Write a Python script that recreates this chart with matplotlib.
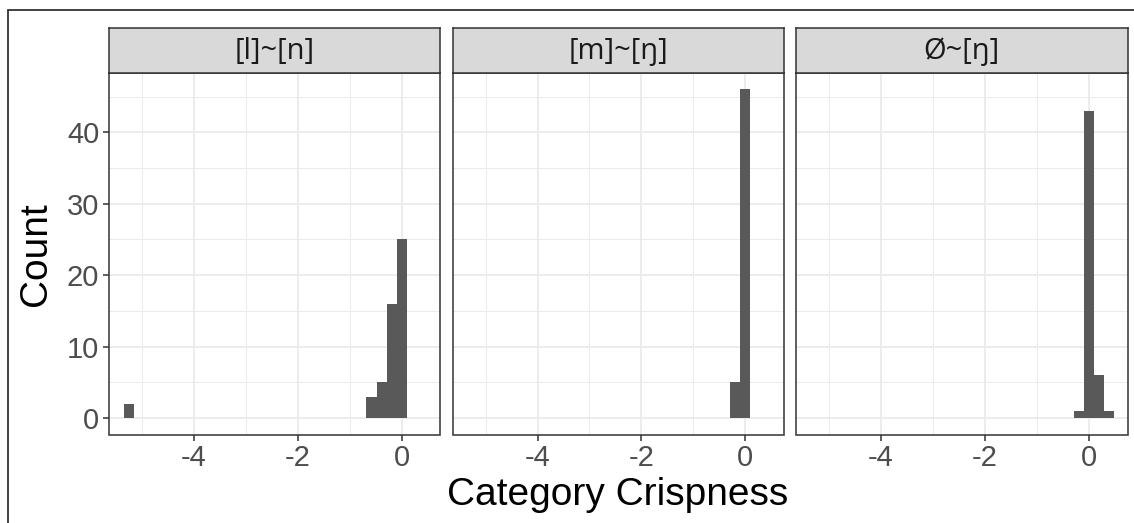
"""
Histogram of category crispness per contrast, three facets (ggplot theme_bw look).
"""
import matplotlib
matplotlib.use("Agg")
import matplotlib.pyplot as plt
from matplotlib.patches import Rectangle

# ---- data ----
panels = ["[l]~[n]", "[m]~[ŋ]", "Ø~[ŋ]"]
bin_width = 0.193
centers_ln = [-5.255, -0.58, -0.387, -0.193, 0.0]
counts_ln = [2, 3, 5, 16, 25]
centers_mng = [-0.193, 0.0]
counts_mng = [5, 46]
centers_0ng = [-0.193, 0.0, 0.193, 0.387]
counts_0ng = [1, 43, 6, 1]
x_ticks = [-4, -2, 0]
x_minor = [-5, -3, -1]
y_ticks = [0, 10, 20, 30, 40]
y_minor = [5, 15, 25, 35, 45]

series = [(centers_ln, counts_ln), (centers_mng, counts_mng), (centers_0ng, counts_0ng)]

plt.rcParams["axes.unicode_minus"] = False

W, H = 1134, 523
fig = plt.figure(figsize=(W / 100, H / 100), dpi=100)

tick_font = ["Liberation Sans", "DejaVu Sans"]
strip_font = ["Open Sans", "DejaVu Sans"]

# panel positions in pixels (left, right)
lefts = [109, 452.5, 796]
pw = 331.5
top, bottom = 73, 434.5
strip_top = 28

for i, (name, (cx, cnt)) in enumerate(zip(panels, series)):
    ax = fig.add_axes([lefts[i] / W, 1 - bottom / H, pw / W, (bottom - top) / H])
    ax.bar(cx, cnt, width=bin_width, color="#595959", linewidth=0, zorder=3)
    ax.set_xlim(-5.64, 0.75)
    ax.set_ylim(-2.3, 48.3)
    ax.set_xticks(x_ticks)
    ax.set_xticks(x_minor, minor=True)
    ax.set_yticks(y_ticks)
    ax.set_yticks(y_minor, minor=True)
    ax.grid(True, which="major", color="#EBEBEB", linewidth=1.3, zorder=0)
    ax.grid(True, which="minor", color="#EBEBEB", linewidth=0.7, zorder=0)
    ax.set_axisbelow(True)
    ax.tick_params(which="minor", length=0)
    ax.tick_params(which="major", length=4, width=1.1, color="#333333",
                   labelcolor="#4D4D4D", labelsize=21, pad=3)
    for lab in ax.get_xticklabels() + ax.get_yticklabels():
        lab.set_family(tick_font)
    if i > 0:
        ax.tick_params(axis="y", left=False, labelleft=False)
    for sp in ax.spines.values():
        sp.set_color("#333333")
        sp.set_linewidth(1.1)

    # facet strip
    sax = fig.add_axes([lefts[i] / W, 1 - top / H, pw / W, (top - strip_top) / H])
    sax.set_facecolor("#D9D9D9")
    sax.set_xticks([])
    sax.set_yticks([])
    for sp in sax.spines.values():
        sp.set_color("#333333")
        sp.set_linewidth(1.1)
    sax.text(0.5, 0.47, name, ha="center", va="center", fontsize=21,
             color="#1A1A1A", family=strip_font, transform=sax.transAxes)

fig.text(36 / W, 1 - 254 / H, "Count", rotation=90, ha="center", va="center",
         fontsize=28, family=tick_font)
fig.text(618 / W, 1 - 505 / H, "Category Crispness", ha="center", va="baseline",
         fontsize=28, family=tick_font)

# outer frame (only its left/top edges fall inside the image)
fig.patches.append(Rectangle((8 / W, -0.05), 1.1, 1 - 10 / H + 0.05,
                             transform=fig.transFigure, fill=False,
                             edgecolor="#333333", linewidth=1.3))

fig.savefig("out.png", dpi=100)
